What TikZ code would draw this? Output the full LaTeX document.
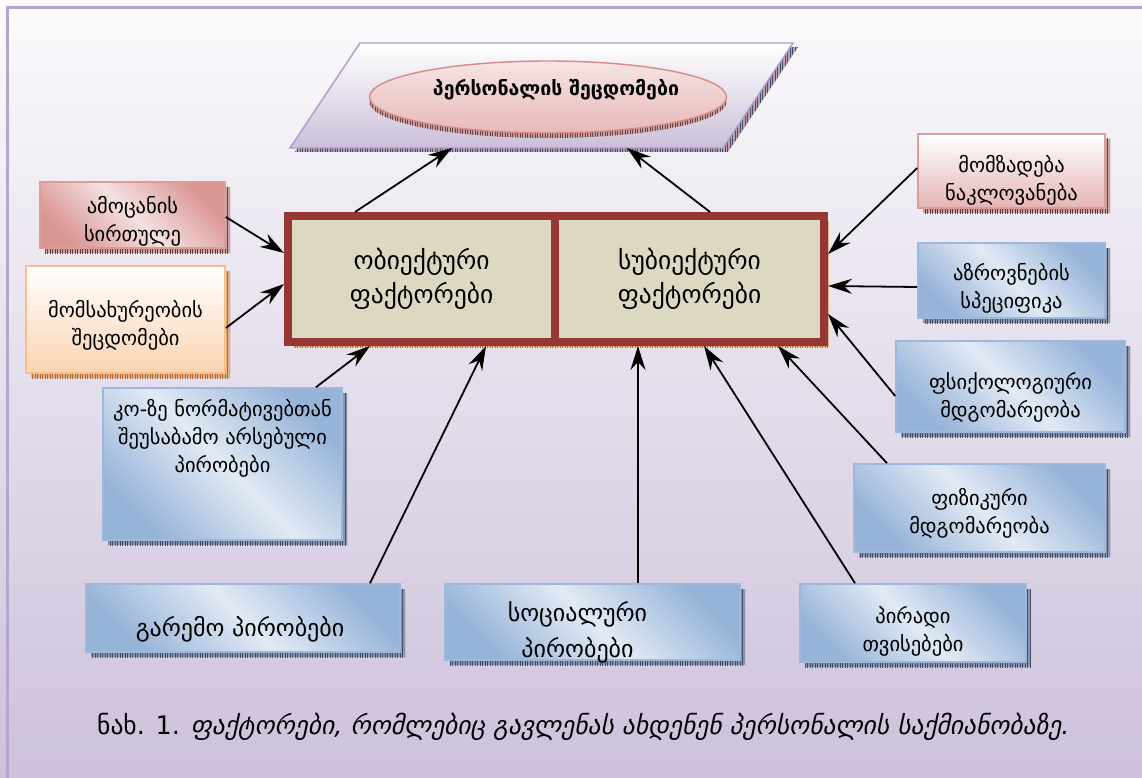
\documentclass[tikz,border=0pt]{standalone}
\usepackage{fontspec}
\setmainfont{DejaVu Sans}
\usetikzlibrary{arrows.meta,shapes.geometric,patterns.meta}
\definecolor{bgT}{HTML}{FBFAFC}
\definecolor{bgB}{HTML}{CDC1DB}
\definecolor{frameC}{HTML}{B6A6CE}
\definecolor{plB}{HTML}{CBBFD9}
\definecolor{plD}{HTML}{AE9DC6}
\definecolor{elT}{HTML}{F6E4E4}
\definecolor{elB}{HTML}{E7B9B8}
\definecolor{elD}{HTML}{D48A88}
\definecolor{mainD}{HTML}{953735}
\definecolor{mainF}{HTML}{DDD8C2}
\definecolor{blA}{HTML}{96B3D8}
\definecolor{blB}{HTML}{E2EAF4}
\definecolor{blD}{HTML}{9DB8DC}
\definecolor{pkA}{HTML}{D99694}
\definecolor{pkB}{HTML}{F4E1E1}
\definecolor{pkD}{HTML}{DC9C9A}
\definecolor{pcB}{HTML}{FBD3B2}
\definecolor{pcD}{HTML}{F9BE8C}
\definecolor{shBl}{HTML}{8A96AE}
\definecolor{shBlL}{HTML}{44506A}
\definecolor{shPk}{HTML}{C8A0A0}
\definecolor{shPkL}{HTML}{6A4040}
\definecolor{shOr}{HTML}{E0B080}
\definecolor{shOrL}{HTML}{B06A30}
\pgfdeclareverticalshading{diagblue}{100bp}{color(0bp)=(blA); color(25bp)=(blA); color(50bp)=(blB); color(75bp)=(blA); color(100bp)=(blA)}
\pgfdeclareverticalshading{diagpink}{100bp}{color(0bp)=(pkA); color(25bp)=(pkA); color(50bp)=(pkB); color(75bp)=(pkA); color(100bp)=(pkA)}
\tikzset{
  shad/.style 2 args={
    preaction={fill=#1, transform canvas={shift={(5pt,-5pt)}}},
    preaction={pattern={Lines[angle=90,distance=2.5pt,line width=0.6pt]}, pattern color=#2, transform canvas={shift={(5pt,-5pt)}}}},
  boxtext/.style={font=\fontsize{20.5}{28}\selectfont, align=center, inner sep=0pt},
  txt/.style 2 args={label={[boxtext, yshift=-#1pt]center:{#2}}},
  bluebox/.style={rectangle, draw=blD, line width=1.6pt, shading=diagblue, shading angle=-45, inner sep=0pt, shad={shBl}{shBlL}},
  pinkbox/.style={rectangle, draw=pkD, line width=1.6pt, shading=diagpink, shading angle=-45, inner sep=0pt, shad={shPk}{shPkL}},
  pinkvbox/.style={rectangle, draw=pkD, line width=1.6pt, top color=white, bottom color=pkA!70, inner sep=0pt, shad={shPk}{shPkL}},
  peachbox/.style={rectangle, draw=pcD, line width=1.6pt, top color=white, bottom color=pcB, inner sep=0pt, shad={shOr}{shOrL}},
  mainbox/.style={rectangle, draw=mainD, line width=8pt, fill=mainF, inner sep=0pt, shad={shOr}{shOrL}, font=\fontsize{25.5}{34}\selectfont, align=center},
  arr/.style={-{Stealth[length=24pt,width=15pt,inset=8pt]}, line width=1.8pt, black}
}
\begin{document}
\begin{tikzpicture}[x=1pt,y=-1pt]
\useasboundingbox (0,0) rectangle (1142,778);
\shade[top color=bgT, bottom color=bgB] (0,0) rectangle (1142,778);
\draw[frameC, line width=3pt] (7,780) -- (7,8) -- (1144,8);
% parallelogram with shadow
\fill[shPk!60!plD] (365,47) -- (798,47) -- (728,152) -- (295,152) -- cycle;
\fill[pattern={Lines[angle=90,distance=2.5pt,line width=0.6pt]}, pattern color=shBlL] (365,47) -- (798,47) -- (728,152) -- (295,152) -- cycle;
\shade[top color=white, bottom color=plB, draw=plD, line width=1.4pt] (360,43) -- (793,43) -- (723,148) -- (290,148) -- cycle;
\coordinate (pa) at (452,148);
\coordinate (pb) at (627,148);
% ellipse
\node[ellipse, draw=elD, line width=1.4pt, top color=elT, bottom color=elB, minimum width=357pt, minimum height=72pt, inner sep=0pt,
  preaction={fill=shPk, transform canvas={shift={(0pt,-5pt)}}},
  preaction={pattern={Lines[angle=90,distance=2.5pt,line width=0.6pt]}, pattern color=shPkL, transform canvas={shift={(0pt,-5pt)}}},
  label={[font=\fontsize{19.5}{22}\selectfont\bfseries, inner sep=0pt, xshift=8pt, yshift=7pt]center:{პერსონალის შეცდომები}}] (err) at (548,97) {};
% main boxes
\node[mainbox, minimum width=267pt, minimum height=126pt] (obj) at (421.5,279) {ობიექტური\\ფაქტორები};
\node[mainbox, minimum width=269pt, minimum height=126pt] (subj) at (689.5,279) {სუბიექტური\\ფაქტორები};
% left boxes
\node[pinkbox, minimum width=185pt, minimum height=66pt, txt={6}{ამოცანის\\სირთულე}] (amo) at (132.5,215) {};
\node[peachbox, minimum width=199pt, minimum height=107pt, txt={6}{მომსახურეობის\\შეცდომები}] (moms) at (125.5,319.5) {};
\node[bluebox, minimum width=239pt, minimum height=152pt,
  label={[boxtext, anchor=north, yshift=-12pt]north:{კო-ზე ნორმატივებთან\\შეუსაბამო არსებული\\პირობები}}] (ko) at (222.5,464) {};
% bottom boxes
\node[bluebox, minimum width=314pt, minimum height=68pt,
  label={[font=\fontsize{24}{30}\selectfont, inner sep=0pt, xshift=-3pt, yshift=-11pt]center:{გარემო პირობები}}] (garemo) at (243,618) {};
\node[bluebox, minimum width=295pt, minimum height=76pt,
  label={[font=\fontsize{24}{36}\selectfont, align=center, inner sep=0pt, xshift=-15pt, yshift=-10pt]center:{სოციალური\\პირობები}}] (soc) at (592.5,622) {};
\node[bluebox, minimum width=226pt, minimum height=78pt, txt={8}{პირადი\\თვისებები}] (piradi) at (913,623) {};
% right boxes
\node[pinkvbox, minimum width=187pt, minimum height=74pt, txt={9}{მომზადება\\ნაკლოვანება}] (momz) at (1011.5,171) {};
\node[bluebox, minimum width=187pt, minimum height=75pt, txt={8}{აზროვნების\\სპეციფიკა}] (azr) at (1011.5,280.5) {};
\node[bluebox, minimum width=229pt, minimum height=91pt, txt={11}{ფსიქოლოგიური\\მდგომარეობა}] (fsiq) at (1010.5,386.5) {};
\node[bluebox, minimum width=251pt, minimum height=88pt, txt={5}{ფიზიკური\\მდგომარეობა}] (fiz) at (979.5,508) {};
% arrows
\draw[arr] ([xshift=-66.5pt]obj.north) -- (pa);
\draw[arr] ([xshift=20.5pt]subj.north) -- (pb);
\draw[arr] ([yshift=-2pt]amo.east) -- ([yshift=26pt]obj.west);
\draw[arr] ([yshift=-8.5pt]moms.east) -- ([yshift=-5pt]obj.west);
\draw[arr] ([xshift=93.5pt]ko.north) -- ([xshift=-51.5pt]obj.south);
\draw[arr] ([xshift=127pt]garemo.north) -- ([xshift=64.5pt]obj.south);
\draw[arr] ([xshift=45.5pt]soc.north) -- ([xshift=-51.5pt]subj.south);
\draw[arr] ([xshift=-58pt]piradi.north) -- ([xshift=14.5pt]subj.south);
\draw[arr] ([xshift=-92.5pt]fiz.north) -- ([xshift=88.5pt]subj.south);
\draw[arr] ([yshift=-9.5pt]fsiq.west) -- ([yshift=-35pt]subj.east);
\draw[arr] ([yshift=-6.5pt]azr.west) -- ([yshift=-7pt]subj.east);
\draw[arr] ([yshift=3pt]momz.west) -- ([yshift=25pt]subj.east);
% caption
\node[anchor=west, font=\fontsize{25.5}{28}\selectfont, inner sep=0pt] (cap) at (97,727) {ნახ. 1. \textit{ფაქტორები, რომლებიც გავლენას ახდენენ პერსონალის საქმიანობაზე.}};
\end{tikzpicture}
\end{document}
